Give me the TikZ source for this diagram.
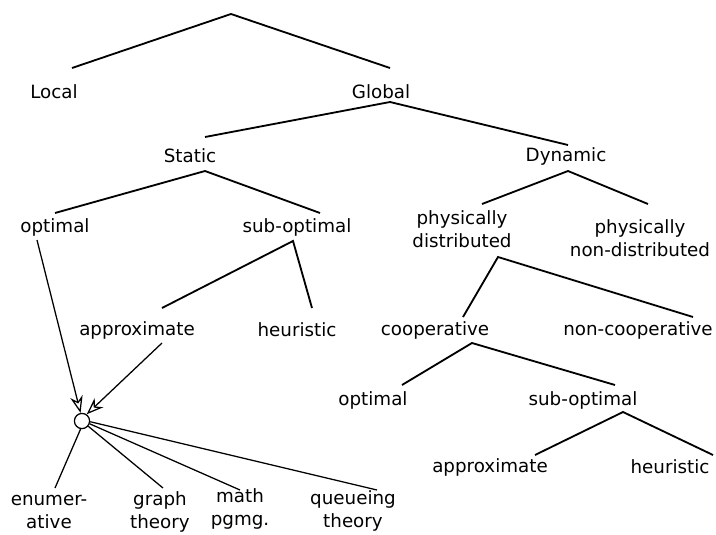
\documentclass[tikz,border=0pt]{standalone}
\usepackage{fontspec}
\setmainfont{DejaVu Sans}
\usetikzlibrary{calc,arrows.meta}
\begin{document}
\begin{tikzpicture}[x=0.025cm, y=-0.025cm,
    lbl/.style={font=\fontsize{13}{16.5}\selectfont, inner sep=0pt, align=center},
    branch/.style={line width=1.3pt},
    thin/.style={line width=0.9pt},
    pointer/.style={line width=0.9pt, -{Stealth[open, length=12pt, width=9pt]}}]
    \useasboundingbox (0, 0) rectangle (716, 534);
    \coordinate (root) at (231, 14);
    \node[lbl] (local) at (54, 92) {Local};
    \node[lbl] (global) at (381, 92) {Global};
    \node[lbl] (static) at (190, 156) {Static};
    \node[lbl] (dynamic) at (566, 156) {Dynamic};
    \node[lbl] (sopt) at (55, 227) {optimal};
    \node[lbl] (ssub) at (297, 227) {sub-optimal};
    \node[lbl] (pdist) at (462, 229) {physically\\distributed};
    \node[lbl] (pndist) at (640, 238) {physically\\non-distributed};
    \node[lbl] (sapprox) at (137, 330) {approximate};
    \node[lbl] (sheur) at (297, 330) {heuristic};
    \node[lbl] (coop) at (435, 330) {cooperative};
    \node[lbl] (ncoop) at (638, 330) {non-cooperative};
    \node[lbl] (dopt) at (373, 400) {optimal};
    \node[lbl] (dsub) at (583, 400) {sub-optimal};
    \node[lbl] (dapprox) at (490, 467) {approximate};
    \node[lbl] (dheur) at (670, 467) {heuristic};
    \node[circle, draw, thin, minimum size=0.38cm, inner sep=0pt] (circ) at (82, 421) {};
    \node[lbl] (enum) at (49, 512) {enumer-\\ative};
    \node[lbl] (graph) at (160, 512) {graph\\theory};
    \node[lbl] (math) at (240, 509) {math\\pgmg.};
    \node[lbl] (queue) at (353, 511) {queueing\\theory};

    \draw[branch] ($(local) + (18, -24)$) -- (root) -- ($(global) + (9, -24)$);
    \draw[branch] ($(static) + (15, -19)$) -- ($(global) + (9, 10)$)%
        -- ($(dynamic) + (2, -11)$);
    \draw[branch] ($(sopt) + (0, -14)$) -- ($(static) + (15, 15)$)%
        -- ($(ssub) + (23, -14)$);
    \draw[branch] ($(pdist) + (20, -25)$) -- ($(dynamic) + (2, 15)$)%
        -- ($(pndist) + (8, -34)$);
    \draw[branch] ($(sapprox) + (25, -22)$) -- ($(ssub) + (-4, 14)$)%
        -- ($(sheur) + (15, -22)$);
    \draw[branch] ($(coop) + (28, -13)$) -- ($(pdist) + (36, 28)$)%
        -- ($(ncoop) + (55, -13)$);
    \draw[branch] ($(dopt) + (29, -15)$) -- ($(coop) + (37, 13)$)%
        -- ($(dsub) + (32, -15)$);
    \draw[branch] ($(dapprox) + (45, -12)$) -- ($(dsub) + (40, 12)$)%
        -- ($(dheur) + (43, -12)$);

    \draw[pointer] ($(sopt) + (-18, 13)$) -- (circ.100);
    \draw[pointer] ($(sapprox) + (25, 13)$) -- (circ.55);
    \draw[thin] (circ.-100) -- ($(enum) + (6, -24)$);
    \draw[thin] (circ.-40) -- ($(graph) + (3, -24)$);
    \draw[thin] (circ.-20) -- ($(math) + (0, -19)$);
    \draw[thin] (circ.-5) -- ($(queue) + (24, -21)$);
\end{tikzpicture}
\end{document}
